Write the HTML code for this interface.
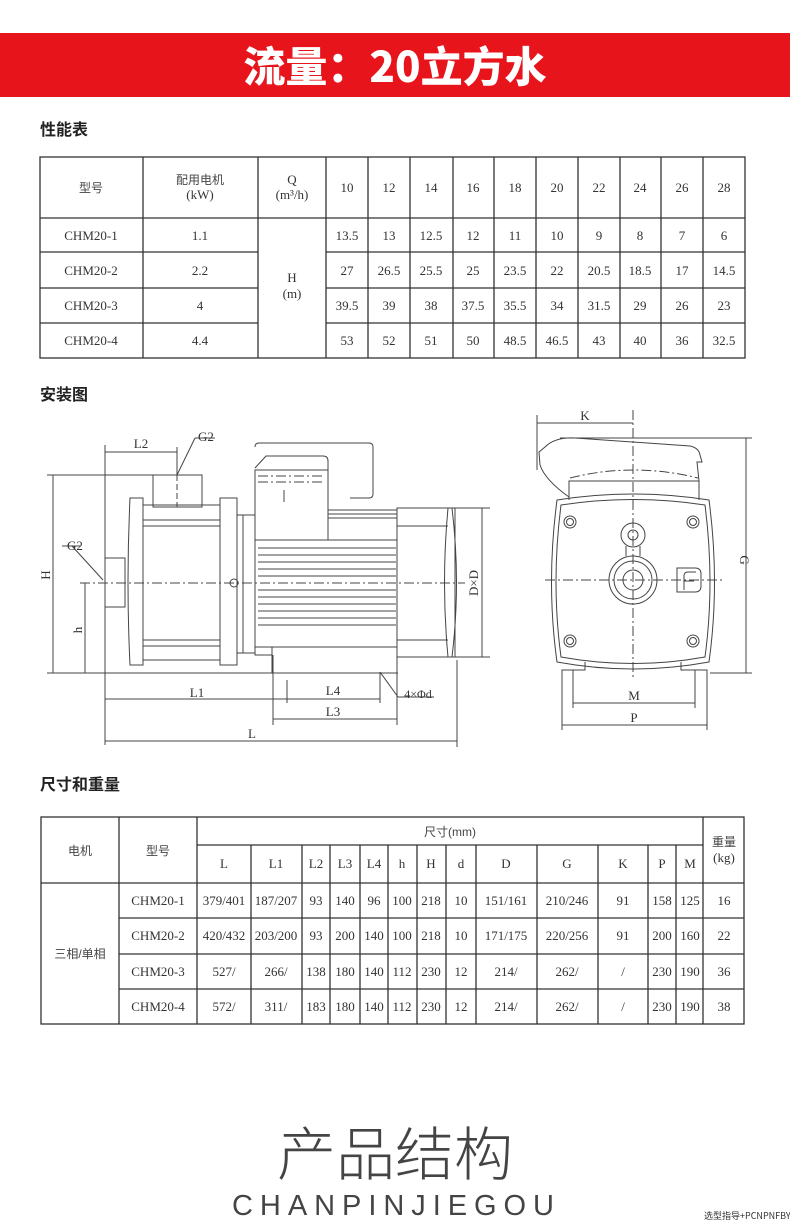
<!DOCTYPE html>
<html><head><meta charset="utf-8"><style>
html,body{margin:0;padding:0;background:#fff;}
svg{display:block}
.t{font-family:"Liberation Serif","Noto Serif CJK SC",serif;font-size:13px;fill:#333;text-anchor:middle}
.c{font-family:"Liberation Sans","Noto Sans CJK SC",sans-serif;font-size:12px;fill:#444;text-anchor:middle}
.d{font-family:"Liberation Serif",serif;font-size:13px;fill:#333;text-anchor:middle}
.h{font-family:"Liberation Sans","Noto Sans CJK SC",sans-serif;font-size:16px;font-weight:bold;fill:#222}
</style></head><body>
<svg width="790" height="1223" viewBox="0 0 790 1223" xmlns="http://www.w3.org/2000/svg">
<rect x="0" y="33" width="790" height="64" fill="#e8141b"/>
<text x="395" y="82" text-anchor="middle" font-family="'Noto Sans CJK SC',sans-serif" font-weight="900" font-size="42" fill="#fff">流量：20立方水</text>

<text x="40" y="135" class="h">性能表</text>
<g stroke="#333" stroke-width="1.3" fill="none">
<rect x="40" y="157" width="705" height="201"/>
<line x1="40" y1="218" x2="745" y2="218"/>
<line x1="40" y1="252" x2="258" y2="252"/><line x1="326" y1="252" x2="745" y2="252"/>
<line x1="40" y1="288" x2="258" y2="288"/><line x1="326" y1="288" x2="745" y2="288"/>
<line x1="40" y1="323" x2="258" y2="323"/><line x1="326" y1="323" x2="745" y2="323"/>
<line x1="143" y1="157" x2="143" y2="358"/><line x1="258" y1="157" x2="258" y2="358"/>
<line x1="326" y1="157" x2="326" y2="358"/><line x1="368" y1="157" x2="368" y2="358"/>
<line x1="410" y1="157" x2="410" y2="358"/><line x1="453" y1="157" x2="453" y2="358"/>
<line x1="494" y1="157" x2="494" y2="358"/><line x1="536" y1="157" x2="536" y2="358"/>
<line x1="578" y1="157" x2="578" y2="358"/><line x1="620" y1="157" x2="620" y2="358"/>
<line x1="661" y1="157" x2="661" y2="358"/><line x1="703" y1="157" x2="703" y2="358"/>
</g>
<g class="t">
<text x="91" y="192" class="c">型号</text>
<text x="200" y="184" class="c">配用电机</text><text x="200" y="199">(kW)</text>
<text x="292" y="184">Q</text><text x="292" y="199">(m³/h)</text>
<text x="347" y="192">10</text><text x="389" y="192">12</text><text x="431" y="192">14</text><text x="473" y="192">16</text><text x="515" y="192">18</text><text x="557" y="192">20</text><text x="599" y="192">22</text><text x="640" y="192">24</text><text x="682" y="192">26</text><text x="724" y="192">28</text>
<text x="91" y="240">CHM20-1</text><text x="200" y="240">1.1</text>
<text x="91" y="275">CHM20-2</text><text x="200" y="275">2.2</text>
<text x="91" y="310">CHM20-3</text><text x="200" y="310">4</text>
<text x="91" y="345">CHM20-4</text><text x="200" y="345">4.4</text>
<text x="292" y="282">H</text><text x="292" y="298">(m)</text>
<text x="347" y="240">13.5</text><text x="389" y="240">13</text><text x="431" y="240">12.5</text><text x="473" y="240">12</text><text x="515" y="240">11</text><text x="557" y="240">10</text><text x="599" y="240">9</text><text x="640" y="240">8</text><text x="682" y="240">7</text><text x="724" y="240">6</text>
<text x="347" y="275">27</text><text x="389" y="275">26.5</text><text x="431" y="275">25.5</text><text x="473" y="275">25</text><text x="515" y="275">23.5</text><text x="557" y="275">22</text><text x="599" y="275">20.5</text><text x="640" y="275">18.5</text><text x="682" y="275">17</text><text x="724" y="275">14.5</text>
<text x="347" y="310">39.5</text><text x="389" y="310">39</text><text x="431" y="310">38</text><text x="473" y="310">37.5</text><text x="515" y="310">35.5</text><text x="557" y="310">34</text><text x="599" y="310">31.5</text><text x="640" y="310">29</text><text x="682" y="310">26</text><text x="724" y="310">23</text>
<text x="347" y="345">53</text><text x="389" y="345">52</text><text x="431" y="345">51</text><text x="473" y="345">50</text><text x="515" y="345">48.5</text><text x="557" y="345">46.5</text><text x="599" y="345">43</text><text x="640" y="345">40</text><text x="682" y="345">36</text><text x="724" y="345">32.5</text>
</g>

<text x="40" y="400" class="h">安装图</text>
<!-- side view -->
<g stroke="#444" stroke-width="1" fill="none">
<!-- dims -->
<line x1="105" y1="445" x2="105" y2="745"/>
<line x1="105" y1="452" x2="177" y2="452"/><line x1="177" y1="447" x2="177" y2="475"/>
<line x1="177" y1="475" x2="195" y2="438"/><line x1="195" y1="438" x2="215" y2="438"/>
<line x1="47" y1="475" x2="153" y2="475"/><line x1="53" y1="475" x2="53" y2="673"/>
<line x1="47" y1="673" x2="398" y2="673"/>
<line x1="85" y1="583" x2="85" y2="673"/>
<line x1="80" y1="583" x2="465" y2="583" stroke-dasharray="10,3,2,3"/>
<line x1="72" y1="546" x2="103" y2="580"/><line x1="62" y1="546" x2="80" y2="546"/>
<line x1="105" y1="699" x2="287" y2="699"/><line x1="287" y1="680" x2="287" y2="703"/>
<line x1="287" y1="699" x2="380" y2="699"/><line x1="380" y1="672" x2="380" y2="703"/>
<line x1="380" y1="672" x2="398" y2="697"/><line x1="398" y1="697" x2="434" y2="697"/>
<line x1="273" y1="655" x2="273" y2="725"/><line x1="397" y1="655" x2="397" y2="725"/>
<line x1="273" y1="719" x2="397" y2="719"/>
<line x1="457" y1="660" x2="457" y2="747"/><line x1="105" y1="741" x2="457" y2="741"/>
<line x1="400" y1="508" x2="490" y2="508"/><line x1="400" y1="657" x2="490" y2="657"/>
<line x1="482" y1="508" x2="482" y2="657"/>
<!-- pump -->
<rect x="153" y="475" width="49" height="32"/>
<line x1="177" y1="475" x2="177" y2="507" stroke-dasharray="6,3"/>
<path d="M130 498 L143 498 L143 665 L130 665 Q126 583 130 498 Z"/>
<rect x="143" y="505" width="77" height="155"/>
<line x1="143" y1="520" x2="220" y2="520"/><line x1="143" y1="526" x2="220" y2="526"/>
<line x1="143" y1="640" x2="220" y2="640"/><line x1="143" y1="646" x2="220" y2="646"/>
<rect x="220" y="498" width="17" height="167"/>
<rect x="237" y="515" width="18" height="138"/>
<line x1="243" y1="515" x2="243" y2="653"/>
<circle cx="234" cy="583" r="4"/>
<rect x="105" y="558" width="20" height="49"/>
<!-- motor -->
<path d="M255 447 Q255 443 259 443 L369 443 Q373 443 373 447 L373 494 Q373 498 369 498 L350 498"/>
<path d="M255 468 L266 456 L323 456 Q328 456 328 461 L328 498"/>
<rect x="255" y="470" width="73" height="70"/>
<line x1="258" y1="476" x2="325" y2="476" stroke-dasharray="10,3,2,3"/>
<line x1="258" y1="482" x2="325" y2="482" stroke-dasharray="10,3,2,3"/>
<line x1="284" y1="490" x2="284" y2="502"/>
<line x1="328" y1="510" x2="397" y2="510"/><line x1="328" y1="514" x2="397" y2="514"/><line x1="328" y1="518" x2="397" y2="518"/>
<rect x="255" y="540" width="142" height="107"/>
<line x1="258" y1="548" x2="396" y2="548"/><line x1="258" y1="555" x2="396" y2="555"/><line x1="258" y1="562" x2="396" y2="562"/><line x1="258" y1="569" x2="396" y2="569"/><line x1="258" y1="576" x2="396" y2="576"/><line x1="258" y1="590" x2="396" y2="590"/><line x1="258" y1="597" x2="396" y2="597"/><line x1="258" y1="604" x2="396" y2="604"/><line x1="258" y1="611" x2="396" y2="611"/><line x1="258" y1="618" x2="396" y2="618"/><line x1="258" y1="625" x2="396" y2="625"/>
<rect x="255" y="647" width="17" height="8"/>
<rect x="272" y="647" width="125" height="26"/>
<rect x="397" y="508" width="58" height="149"/>
<line x1="397" y1="526" x2="448" y2="526"/><line x1="397" y1="640" x2="448" y2="640"/>
<path d="M448 508 Q441 583 448 657 M452 508 Q461 583 452 657"/>
</g>
<g class="d">
<text x="141" y="448">L2</text><text x="206" y="441">G2</text><text x="75" y="550">G2</text>
<text x="197" y="697">L1</text><text x="333" y="695">L4</text><text x="333" y="716">L3</text><text x="418" y="698" font-size="12">4×Φd</text><text x="252" y="738">L</text>
<text transform="translate(50,575) rotate(-90)">H</text>
<text transform="translate(82,630) rotate(-90)">h</text>
<text transform="translate(478,583) rotate(-90)">D×D</text>
</g>
<!-- front view -->
<g stroke="#444" stroke-width="1" fill="none">
<line x1="537" y1="415" x2="537" y2="470"/><line x1="537" y1="423" x2="633" y2="423"/>
<line x1="633" y1="410" x2="633" y2="678" stroke-dasharray="10,3,2,3"/>
<line x1="545" y1="580" x2="722" y2="580" stroke-dasharray="10,3,2,3"/>
<line x1="560" y1="438" x2="752" y2="438"/><line x1="710" y1="673" x2="752" y2="673"/>
<line x1="746" y1="438" x2="746" y2="673"/>
<path d="M539 452 L545 447 Q555 437 575 438 L690 446 Q699 448 700 455 L702 462 L697 462 L699 481 L569 481 L569 497 Q545 480 540 465 Z"/>
<path d="M569 481 L569 500 M699 481 L699 500"/>
<path d="M570 478 Q633 462 698 478" stroke-dasharray="10,3,2,3"/>
<path d="M557 500 Q633 488 709 500 Q720 583 709 662 Q633 676 557 662 Q546 583 557 500 Z"/>
<path d="M561 505 Q633 494 705 505 Q715 583 705 657 Q633 670 561 657 Q551 583 561 505 Z"/>
<circle cx="570" cy="522" r="6"/><circle cx="570" cy="522" r="3.5"/>
<circle cx="693" cy="522" r="6"/><circle cx="693" cy="522" r="3.5"/>
<circle cx="570" cy="641" r="6"/><circle cx="570" cy="641" r="3.5"/>
<circle cx="693" cy="641" r="6"/><circle cx="693" cy="641" r="3.5"/>
<circle cx="633" cy="535" r="12"/><circle cx="633" cy="535" r="5"/>
<path d="M626 546 L626 556 M640 546 L640 556"/>
<circle cx="633" cy="580" r="24"/><circle cx="633" cy="580" r="19"/><circle cx="633" cy="580" r="10"/>
<path d="M677 568 L695 568 Q701 568 701 574 L701 586 Q701 592 695 592 L677 592 Z"/>
<path d="M684 590 L684 576 Q684 572 688 572 L696 572 M684 581 L694 581"/>
<path d="M585 662 L585 670 L562 670 L562 677 M681 662 L681 670 L707 670 L707 677"/>
<line x1="573" y1="670" x2="573" y2="708"/><line x1="695" y1="670" x2="695" y2="708"/>
<line x1="562" y1="677" x2="562" y2="730"/><line x1="707" y1="677" x2="707" y2="730"/>
<line x1="573" y1="703" x2="695" y2="703"/><line x1="562" y1="725" x2="707" y2="725"/>
</g>
<g class="d">
<text x="585" y="420">K</text><text x="634" y="700">M</text><text x="634" y="722">P</text>
<text transform="translate(740,560) rotate(90)">G</text>
</g>

<text x="40" y="790" class="h">尺寸和重量</text>
<g stroke="#333" stroke-width="1.3" fill="none">
<rect x="41" y="817" width="703" height="207"/>
<line x1="197" y1="845" x2="703" y2="845"/>
<line x1="41" y1="883" x2="744" y2="883"/>
<line x1="119" y1="918" x2="744" y2="918"/><line x1="119" y1="954" x2="744" y2="954"/><line x1="119" y1="989" x2="744" y2="989"/>
<line x1="119" y1="817" x2="119" y2="1024"/><line x1="197" y1="817" x2="197" y2="1024"/>
<line x1="703" y1="817" x2="703" y2="1024"/>
<line x1="251" y1="845" x2="251" y2="1024"/><line x1="302" y1="845" x2="302" y2="1024"/><line x1="330" y1="845" x2="330" y2="1024"/><line x1="360" y1="845" x2="360" y2="1024"/><line x1="388" y1="845" x2="388" y2="1024"/><line x1="417" y1="845" x2="417" y2="1024"/><line x1="446" y1="845" x2="446" y2="1024"/><line x1="476" y1="845" x2="476" y2="1024"/><line x1="537" y1="845" x2="537" y2="1024"/><line x1="598" y1="845" x2="598" y2="1024"/><line x1="648" y1="845" x2="648" y2="1024"/><line x1="676" y1="845" x2="676" y2="1024"/>
</g>
<g class="t" font-size="12">
<text x="80" y="855" class="c">电机</text><text x="158" y="855" class="c">型号</text>
<text x="450" y="836" class="c">尺寸(mm)</text>
<text x="724" y="846" class="c">重量</text><text x="724" y="862">(kg)</text>
<text x="80" y="958" class="c">三相/单相</text>
<text x="224" y="868">L</text><text x="276" y="868">L1</text><text x="316" y="868">L2</text><text x="345" y="868">L3</text><text x="374" y="868">L4</text><text x="402" y="868">h</text><text x="431" y="868">H</text><text x="461" y="868">d</text><text x="506" y="868">D</text><text x="567" y="868">G</text><text x="623" y="868">K</text><text x="662" y="868">P</text><text x="690" y="868">M</text>
<text x="158" y="905">CHM20-1</text><text x="224" y="905">379/401</text><text x="276" y="905">187/207</text><text x="316" y="905">93</text><text x="345" y="905">140</text><text x="374" y="905">96</text><text x="402" y="905">100</text><text x="431" y="905">218</text><text x="461" y="905">10</text><text x="506" y="905">151/161</text><text x="567" y="905">210/246</text><text x="623" y="905">91</text><text x="662" y="905">158</text><text x="690" y="905">125</text><text x="724" y="905">16</text>
<text x="158" y="940">CHM20-2</text><text x="224" y="940">420/432</text><text x="276" y="940">203/200</text><text x="316" y="940">93</text><text x="345" y="940">200</text><text x="374" y="940">140</text><text x="402" y="940">100</text><text x="431" y="940">218</text><text x="461" y="940">10</text><text x="506" y="940">171/175</text><text x="567" y="940">220/256</text><text x="623" y="940">91</text><text x="662" y="940">200</text><text x="690" y="940">160</text><text x="724" y="940">22</text>
<text x="158" y="976">CHM20-3</text><text x="224" y="976">527/</text><text x="276" y="976">266/</text><text x="316" y="976">138</text><text x="345" y="976">180</text><text x="374" y="976">140</text><text x="402" y="976">112</text><text x="431" y="976">230</text><text x="461" y="976">12</text><text x="506" y="976">214/</text><text x="567" y="976">262/</text><text x="623" y="976">/</text><text x="662" y="976">230</text><text x="690" y="976">190</text><text x="724" y="976">36</text>
<text x="158" y="1011">CHM20-4</text><text x="224" y="1011">572/</text><text x="276" y="1011">311/</text><text x="316" y="1011">183</text><text x="345" y="1011">180</text><text x="374" y="1011">140</text><text x="402" y="1011">112</text><text x="431" y="1011">230</text><text x="461" y="1011">12</text><text x="506" y="1011">214/</text><text x="567" y="1011">262/</text><text x="623" y="1011">/</text><text x="662" y="1011">230</text><text x="690" y="1011">190</text><text x="724" y="1011">38</text>
</g>

<text x="395" y="1175" text-anchor="middle" font-family="'Noto Sans CJK SC',sans-serif" font-weight="300" font-size="58" fill="#444" textLength="236" lengthAdjust="spacingAndGlyphs">产品结构</text>
<text x="393" y="1215" text-anchor="middle" font-family="'Liberation Sans',sans-serif" font-size="29" fill="#444" textLength="322" lengthAdjust="spacing">CHANPINJIEGOU</text>
<text x="704" y="1219" font-family="'Noto Sans CJK SC',sans-serif" font-size="9" fill="#333">选型指导+PCNPNFBY</text>
</svg>
</body></html>
